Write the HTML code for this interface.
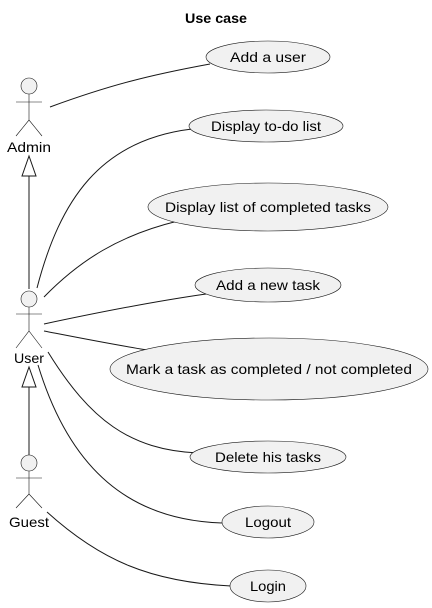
<!DOCTYPE html>
<html><head><style>html,body{margin:0;padding:0;background:#fff;}svg{display:block;}</style></head>
<body>
<svg width="432" height="608" viewBox="0 0 432 608" xmlns="http://www.w3.org/2000/svg" font-family="'Liberation Sans', sans-serif">
<text x="216" y="23" text-anchor="middle" font-size="14" font-weight="bold" textLength="62" lengthAdjust="spacingAndGlyphs">Use case</text>
<g fill="none" stroke="#181818" stroke-width="1">
<path d="M50,107 C110,85 150,75 210,64"/>
<path d="M37,288 C60,200 100,140 192,129"/>
<path d="M44,297 C80,260 120,235 178,221"/>
<path d="M44,324 C100,312 150,302 206,294"/>
<path d="M44,331 C80,338 110,344 147,350"/>
<path d="M48,352 C90,420 130,450 198,453"/>
<path d="M38,365 C70,470 130,520 222,523"/>
<path d="M47,512 C100,560 150,582 231,586"/>
<line x1="29" y1="289" x2="29" y2="176"/>
<line x1="29" y1="455" x2="29" y2="387"/>
</g>
<polygon points="29,156 22,176 36,176" fill="#fff" stroke="#181818"/>
<polygon points="29,367 22,387 36,387" fill="#fff" stroke="#181818"/>
<g fill="#f1f1f1" stroke="#181818" stroke-width="0.6">
<ellipse cx="268" cy="57" rx="62" ry="16"/>
<ellipse cx="266" cy="126" rx="77" ry="16"/>
<ellipse cx="268" cy="207" rx="120" ry="24"/>
<ellipse cx="268" cy="285" rx="73" ry="17"/>
<ellipse cx="269" cy="369" rx="159" ry="31"/>
<ellipse cx="268" cy="457" rx="78" ry="16"/>
<ellipse cx="268" cy="522" rx="46" ry="16"/>
<ellipse cx="268" cy="586" rx="38" ry="16"/>
</g>
<g font-size="14" fill="#000" text-anchor="middle">
<text x="268" y="62" textLength="76" lengthAdjust="spacingAndGlyphs">Add a user</text>
<text x="266" y="131" textLength="110" lengthAdjust="spacingAndGlyphs">Display to-do list</text>
<text x="268" y="212" textLength="206" lengthAdjust="spacingAndGlyphs">Display list of completed tasks</text>
<text x="268" y="290" textLength="104" lengthAdjust="spacingAndGlyphs">Add a new task</text>
<text x="269" y="374" textLength="286" lengthAdjust="spacingAndGlyphs">Mark a task as completed / not completed</text>
<text x="268" y="462" textLength="106" lengthAdjust="spacingAndGlyphs">Delete his tasks</text>
<text x="268" y="527" textLength="46" lengthAdjust="spacingAndGlyphs">Logout</text>
<text x="268" y="591" textLength="36" lengthAdjust="spacingAndGlyphs">Login</text>
</g>
<g fill="none" stroke="#181818" stroke-width="0.6">
<circle cx="29" cy="86" r="8" fill="#f1f1f1"/>
<path d="M29,94 V120 M16,102 H42 M16,136 L29,120 L42,136"/>
<circle cx="29" cy="299" r="8" fill="#f1f1f1"/>
<path d="M29,307 V331 M16,314 H42 M16,348 L29,331 L42,348"/>
<circle cx="29" cy="463" r="8" fill="#f1f1f1"/>
<path d="M29,471 V494 M16,478 H42 M16,508 L29,494 L42,508"/>
</g>
<g font-size="14" text-anchor="middle">
<text x="29" y="152" textLength="44" lengthAdjust="spacingAndGlyphs">Admin</text>
<text x="29" y="363" textLength="30" lengthAdjust="spacingAndGlyphs">User</text>
<text x="29" y="527" textLength="40" lengthAdjust="spacingAndGlyphs">Guest</text>
</g>
</svg>
</body></html>
